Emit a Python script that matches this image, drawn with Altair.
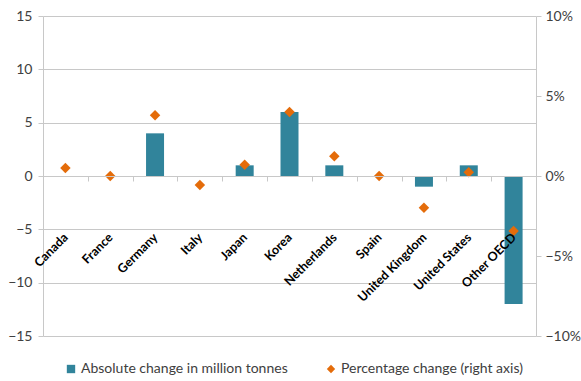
import altair as alt
import pandas as pd

countries = ["Canada", "France", "Germany", "Italy", "Japan", "Korea",
             "Netherlands", "Spain", "United Kingdom", "United States", "Other OECD"]
abs_change = [0, 0, 4, 0, 1, 6, 1, 0, -1, 1, -12]
pct_change = [0.005, 0.0, 0.038, -0.0056, 0.007, 0.040, 0.0123, 0.0, -0.0198, 0.0023, -0.0344]

series_abs = "Absolute change in million tonnes"
series_pct = "Percentage change (right axis)"

df = pd.DataFrame({"country": countries, "abs": abs_change, "pct": pct_change})

FONT = "Lato"
GRID = "#C8C8C8"
TEAL = "#31849B"
ORANGE = "#E46C0A"

xenc = alt.X(
    "country:N", sort=countries, title=None,
    scale=alt.Scale(paddingInner=0, paddingOuter=0),
    axis=alt.Axis(offset=-160, labelAngle=-45, labelAlign="right", labelBaseline="middle",
                  labelFont=FONT, labelFontWeight="bold", labelFontSize=12.5, labelColor="black",
                  labelPadding=54, tickBand="extent", tickSize=5, tickColor=GRID,
                  domainColor=GRID, grid=False, labelOverlap=False, labelBound=False, zindex=1),
)

color = alt.Color("series:N",
                  scale=alt.Scale(domain=[series_abs, series_pct], range=[TEAL, ORANGE]),
                  legend=alt.Legend(orient="none", legendX=21, legendY=346, direction="horizontal",
                                    columns=2, title=None, labelFont=FONT, labelFontSize=14,
                                    labelColor="#404040", symbolSize=70, columnPadding=36,
                                    labelOffset=3, labelLimit=400, symbolStrokeWidth=0))
shape = alt.Shape("series:N",
                  scale=alt.Scale(domain=[series_abs, series_pct], range=["square", "diamond"]))

bars = alt.Chart(df).transform_calculate(series=f"'{series_abs}'").mark_bar(size=18).encode(
    x=xenc,
    y=alt.Y("abs:Q", title=None, scale=alt.Scale(domain=[-15, 15], nice=False),
            axis=alt.Axis(values=[-15, -10, -5, 0, 5, 10, 15], grid=True, gridColor=GRID,
                          domainColor=GRID, tickColor=GRID, tickSize=5, labelFont=FONT,
                          labelFontSize=14, labelColor="#404040", labelPadding=6)),
    color=color,
    shape=shape,
)

points = alt.Chart(df).transform_calculate(series=f"'{series_pct}'").mark_point(
    filled=True, size=110, opacity=1).encode(
    x=xenc,
    y=alt.Y("pct:Q", title=None, scale=alt.Scale(domain=[-0.1, 0.1], nice=False),
            axis=alt.Axis(orient="right", format=".0%", values=[-0.1, -0.05, 0, 0.05, 0.1],
                          grid=False, domainColor=GRID, tickColor=GRID, tickSize=5,
                          labelFont=FONT, labelFontSize=14, labelColor="#404040", labelPadding=4)),
    color=color,
    shape=shape,
)

chart = alt.layer(bars, points).resolve_scale(y="independent").properties(
    width=493, height=320,
    autosize=alt.AutoSizeParams(type="none"),
    padding={"left": 43, "top": 16, "right": 45, "bottom": 45},
).configure_view(stroke=None)

chart.save("out.html", embed_options={"renderer": "svg", "actions": False})
